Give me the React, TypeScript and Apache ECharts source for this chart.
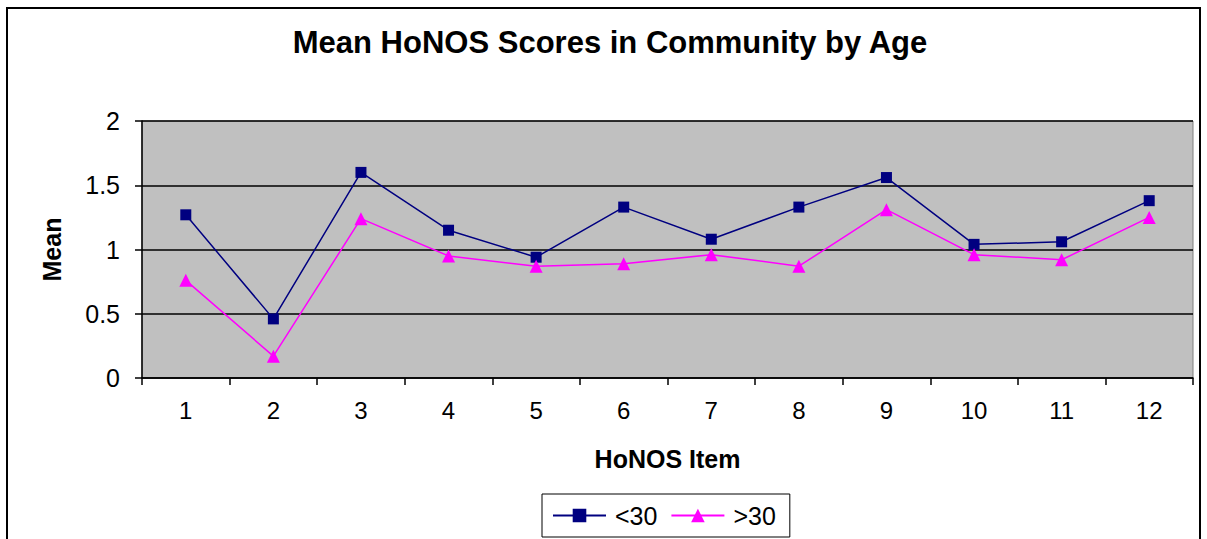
import React, { useEffect, useRef } from "react";
import * as echarts from "echarts";

const categories = ["1", "2", "3", "4", "5", "6", "7", "8", "9", "10", "11", "12"];
const under30 = [1.27, 0.46, 1.6, 1.15, 0.94, 1.33, 1.08, 1.33, 1.56, 1.04, 1.06, 1.38];
const over30 = [0.76, 0.17, 1.24, 0.95, 0.87, 0.89, 0.96, 0.87, 1.31, 0.96, 0.92, 1.25];
const seriesNames = ["<30", ">30"];
const titleText = "Mean HoNOS Scores in Community by Age";
const xName = "HoNOS Item";
const yName = "Mean";

const FONT = "'Liberation Sans', Arial, sans-serif";

export default function App() {
  const ref = useRef<HTMLDivElement>(null);
  useEffect(() => {
    if (!ref.current) return;
    const chart = echarts.init(ref.current, undefined, { renderer: "svg" });
    chart.setOption({
      animation: false,
      backgroundColor: "#ffffff",
      graphic: [
        {
          type: "rect",
          shape: { x: 7, y: 8, width: 1193, height: 600 },
          style: { fill: "none", stroke: "#000", lineWidth: 2 },
          z: -10,
        },
        {
          type: "text",
          x: 610,
          y: 27,
          style: {
            text: titleText,
            fontFamily: FONT,
            fontWeight: "bold",
            fontSize: 31,
            fill: "#000",
            textAlign: "center",
            textVerticalAlign: "top",
          },
        },
      ],
      grid: {
        left: 142,
        top: 121,
        right: 14,
        bottom: 161,
        show: true,
        backgroundColor: "#c0c0c0",
        borderColor: "#808080",
        borderWidth: 1,
      },
      legend: {
        left: 542,
        top: 494,
        padding: [9, 14, 9, 10],
        borderColor: "#000",
        borderWidth: 1,
        itemWidth: 53,
        itemHeight: 17,
        itemGap: 13,
        textStyle: { fontFamily: FONT, fontSize: 25, color: "#000", padding: [0, 0, 0, 4] },
        data: seriesNames,
      },
      xAxis: {
        type: "category",
        data: categories,
        boundaryGap: true,
        name: xName,
        nameLocation: "middle",
        nameGap: 68,
        nameTextStyle: { fontFamily: FONT, fontWeight: "bold", fontSize: 25, color: "#000" },
        axisLine: { show: true, lineStyle: { color: "#000", width: 1.5 } },
        axisTick: { show: true, length: 7, alignWithLabel: false, lineStyle: { color: "#000", width: 1.5 } },
        axisLabel: { fontFamily: FONT, fontSize: 24, color: "#000", margin: 20 },
        splitLine: { show: false },
      },
      yAxis: {
        type: "value",
        min: 0,
        max: 2,
        interval: 0.5,
        name: yName,
        nameLocation: "middle",
        nameGap: 78,
        nameRotate: 90,
        nameTextStyle: { fontFamily: FONT, fontWeight: "bold", fontSize: 25, color: "#000" },
        axisLine: { show: true, lineStyle: { color: "#000", width: 1.5 } },
        axisTick: { show: true, length: 7, lineStyle: { color: "#000", width: 1.5 } },
        axisLabel: { fontFamily: FONT, fontSize: 25, color: "#000", margin: 22 },
        splitLine: { show: true, lineStyle: { color: "#000", width: 1.5 } },
      },
      series: [
        {
          name: seriesNames[0],
          type: "line",
          data: under30,
          symbol: "rect",
          symbolSize: 11,
          color: "#000080",
          lineStyle: { color: "#000080", width: 1.5 },
          itemStyle: { color: "#000080" },
        },
        {
          name: seriesNames[1],
          type: "line",
          data: over30,
          symbol: "triangle",
          symbolSize: 13,
          color: "#ff00ff",
          lineStyle: { color: "#ff00ff", width: 1.5 },
          itemStyle: { color: "#ff00ff" },
        },
      ],
    });
    return () => chart.dispose();
  }, []);
  return (
    <div
      ref={ref}
      style={{ position: "absolute", left: 0, top: 0, width: 1207, height: 539 }}
    />
  );
}
